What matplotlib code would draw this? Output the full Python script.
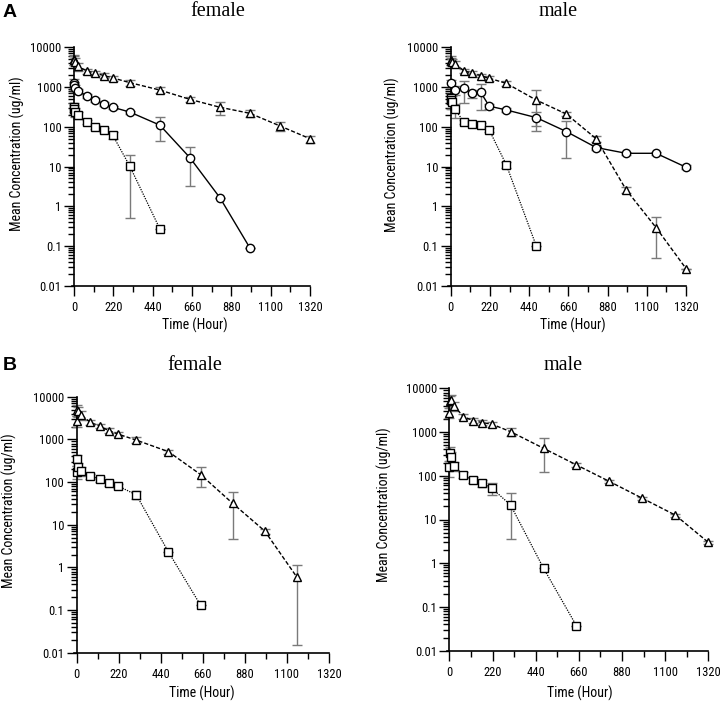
import matplotlib
matplotlib.use("Agg")
import matplotlib.pyplot as plt
from matplotlib.ticker import LogLocator, NullFormatter, MultipleLocator
from matplotlib import font_manager

# ---- data ----
y_ticks = [0.01, 0.1, 1, 10, 100, 1000, 10000]
y_tick_labels = ["0.01", "0.1", "1", "10", "100", "1000", "10000"]
x_ticks = [0, 220, 440, 660, 880, 1100, 1320]

# A female
af_tri_t = [0.5, 2, 8, 24, 72, 120, 168, 216, 312, 480, 648, 816, 984, 1152, 1320]
af_tri = [5000, 4700, 4300, 3300, 2530, 2220, 1940, 1700, 1290, 840, 490, 310, 218, 105, 50]
af_tri_sd = [1500, 1200, 1000, 700, 350, 300, 300, 250, 200, 150, 80, 110, 45, 25, 10]
af_cir_t = [0.5, 2, 8, 24, 72, 120, 168, 216, 312, 480, 648, 816, 984]
af_cir = [1250, 1100, 950, 790, 600, 465, 375, 310, 235, 110, 16.7, 1.64, 0.089]
af_cir_sd = [300, 250, 200, 120, 60, 50, 40, 30, 20, 65, 13.4, 0, 0]
af_sq_t = [0.5, 2, 8, 24, 72, 120, 168, 216, 312, 480]
af_sq = [310, 280, 240, 200, 132, 100, 83, 62, 10.2, 0.27]
af_sq_sd = [80, 70, 60, 40, 15, 12, 10, 12, 9.7, 0]

# A male
am_tri_t = [0.5, 2, 8, 24, 72, 120, 168, 216, 312, 480, 648, 816, 984, 1152, 1320]
am_tri = [4800, 4500, 4200, 3900, 2600, 2220, 1940, 1660, 1240, 470, 210, 50, 2.6, 0.29, 0.027]
am_tri_sd = [1200, 1000, 900, 700, 300, 250, 200, 200, 150, 390, 20, 8, 0.4, 0.24, 0]
am_cir_t = [0.5, 24, 72, 120, 168, 216, 312, 480, 648, 816, 984, 1152, 1320]
am_cir = [1240, 840, 930, 690, 740, 330, 265, 170, 76, 30, 21.5, 21.5, 9.6]
am_cir_sd = [300, 200, 530, 150, 470, 50, 30, 65, 60, 4, 2, 2, 1]
am_sq_t = [0.5, 2, 8, 24, 72, 120, 168, 216, 312, 480]
am_sq = [520, 480, 430, 275, 135, 118, 110, 83, 11, 0.10]
am_sq_sd = [150, 200, 150, 110, 15, 12, 12, 10, 2, 0]

# B female
bf_tri_t = [0.5, 2, 8, 24, 72, 120, 168, 216, 312, 480, 648, 816, 984, 1152]
bf_tri = [2750, 5000, 4500, 3700, 2500, 2050, 1600, 1330, 960, 515, 150, 31.6, 7.1, 0.59]
bf_tri_sd = [800, 1500, 1200, 800, 300, 250, 200, 150, 150, 60, 72, 27, 1, 0.575]
bf_sq_t = [0.5, 2, 8, 24, 72, 120, 168, 216, 312, 480, 648]
bf_sq = [175, 340, 220, 180, 138, 117, 93, 81, 50, 2.3, 0.13]
bf_sq_sd = [60, 100, 60, 40, 20, 15, 12, 10, 10, 0, 0]

# B male
bm_tri_t = [0.5, 2, 8, 24, 72, 120, 168, 216, 312, 480, 648, 816, 984, 1152, 1320]
bm_tri = [2770, 5000, 5400, 3950, 2250, 1830, 1640, 1520, 1020, 425, 177, 74, 30.5, 12.6, 3.0]
bm_tri_sd = [700, 1500, 1600, 1000, 300, 250, 200, 200, 200, 300, 15, 6, 3, 1, 0.3]
bm_sq_t = [0.5, 2, 8, 24, 72, 120, 168, 216, 312, 480, 648]
bm_sq = [156, 340, 265, 167, 105, 80, 67, 52, 21.5, 0.77, 0.037]
bm_sq_sd = [60, 120, 80, 40, 15, 12, 12, 15, 18, 0, 0]

W, H = 726, 705

# pick a narrow face if one is there
names = {f.name for f in font_manager.fontManager.ttflist}
narrow_fp = None
for cand in ["Liberation Sans Narrow", "Roboto Condensed", "Open Sans Condensed"]:
    if cand in names:
        narrow_fp = dict(fontfamily=cand)
        break
if narrow_fp is None:
    cond = [f for f in font_manager.fontManager.ttflist
            if f.name == "DejaVu Sans" and "ondensed" in str(f.stretch) + f.fname and f.weight in (400, "normal")]
    if cond:
        narrow_fp = dict(fontproperties=font_manager.FontProperties(fname=cond[0].fname))
    else:
        narrow_fp = dict(fontfamily="Roboto")

fig = plt.figure(figsize=(W / 100, H / 100), dpi=100)


def px_axes(left, right, top, bottom):
    return fig.add_axes([left / W, (H - bottom) / H, (right - left) / W, (bottom - top) / H])


def series(ax, t, y, sd, marker, ls):
    ax.errorbar(t, y, yerr=sd, fmt="none", ecolor="#7a7a7a", elinewidth=1,
                capsize=3.5, capthick=1, zorder=2, clip_on=False)
    line, = ax.plot(t, y, color="black", ls=ls, lw=1, marker=marker, ms=6,
                    mfc="white", mec="black", mew=1, zorder=3, clip_on=False)
    if ls == "--":
        line.set_dashes((3, 1.5))
    elif ls == ":":
        line.set_dashes((1, 1))
        line.set_linewidth(0.9)


def label_text(x, y, s, size, **kw):
    props = dict(narrow_fp)
    if "fontproperties" in props:
        fp = props["fontproperties"].copy()
        fp.set_size(size)
        return fig.text(x, y, s, fontproperties=fp, **kw)
    return fig.text(x, y, s, fontsize=size, **props, **kw)


def style(ax):
    ax.set_yscale("log")
    ax.set_xlim(-13, 1320)
    ax.set_ylim(0.01, 10000)
    ax.spines["top"].set_visible(False)
    ax.spines["right"].set_visible(False)
    ax.spines["left"].set_position(("data", 0))
    ax.set_yticks(y_ticks)
    ax.set_yticklabels(y_tick_labels)
    ax.yaxis.set_minor_locator(LogLocator(base=10, subs=range(2, 10)))
    ax.yaxis.set_minor_formatter(NullFormatter())
    ax.set_xticks(x_ticks)
    ax.set_xticklabels([str(v) for v in x_ticks])
    for lab in ax.get_xticklabels() + ax.get_yticklabels():
        if "fontproperties" in narrow_fp:
            fp = narrow_fp["fontproperties"].copy()
            fp.set_size(9.5)
            lab.set_fontproperties(fp)
        else:
            lab.set_fontfamily(narrow_fp["fontfamily"])
            lab.set_fontsize(9)
    ax.xaxis.set_minor_locator(MultipleLocator(110))
    ax.tick_params(which="major", length=7, width=1, direction="out", pad=2)
    ax.tick_params(which="minor", length=4, width=1, direction="out")
    ax.tick_params(axis="x", which="major", pad=4)
    for s in ("left", "bottom"):
        ax.spines[s].set_linewidth(1.2)


panels = [
    (px_axes(71.7, 310, 47.3, 285.7), [(af_tri_t, af_tri, af_tri_sd, "^", "--"),
                                        (af_cir_t, af_cir, af_cir_sd, "o", "-"),
                                        (af_sq_t, af_sq, af_sq_sd, "s", ":")],
     17, 154, 195, 325),
    (px_axes(448.4, 686, 47.3, 285.7), [(am_tri_t, am_tri, am_tri_sd, "^", "--"),
                                         (am_cir_t, am_cir, am_cir_sd, "o", "-"),
                                         (am_sq_t, am_sq, am_sq_sd, "s", ":")],
     392, 155, 573, 325),
    (px_axes(74.2, 329, 396.7, 652.7), [(bf_tri_t, bf_tri, bf_tri_sd, "^", "--"),
                                         (bf_sq_t, bf_sq, bf_sq_sd, "s", ":")],
     9, 511, 202, 693),
    (px_axes(446.8, 708.3, 388.3, 650.7), [(bm_tri_t, bm_tri, bm_tri_sd, "^", "--"),
                                            (bm_sq_t, bm_sq, bm_sq_sd, "s", ":")],
     384, 505, 580, 693),
]

for ax, sers, ylx, yly, xlx, xly in panels:
    style(ax)
    for t, y, sd, m, ls in sers:
        series(ax, t, y, sd, m, ls)
    label_text(ylx / W, 1 - yly / H, "Mean Concentration (ug/ml)", 10, rotation=90,
               ha="center", va="center")
    label_text(xlx / W, 1 - xly / H, "Time (Hour)", 10, ha="center", va="center")

# panel letters and titles
fig.text(3 / W, 1 - 17 / H, "A", fontweight="bold", fontsize=14, fontfamily="Liberation Sans")
fig.text(3 / W, 1 - 370 / H, "B", fontweight="bold", fontsize=14, fontfamily="Liberation Sans")
serif = "Liberation Serif"
fig.text(218 / W, 1 - 16 / H, "female", ha="center", va="baseline", fontsize=14.5, fontfamily=serif)
fig.text(558 / W, 1 - 16 / H, "male", ha="center", va="baseline", fontsize=14.5, fontfamily=serif)
fig.text(195 / W, 1 - 370 / H, "female", ha="center", va="baseline", fontsize=14.5, fontfamily=serif)
fig.text(563 / W, 1 - 370 / H, "male", ha="center", va="baseline", fontsize=14.5, fontfamily=serif)

fig.savefig("out.png", dpi=100)
